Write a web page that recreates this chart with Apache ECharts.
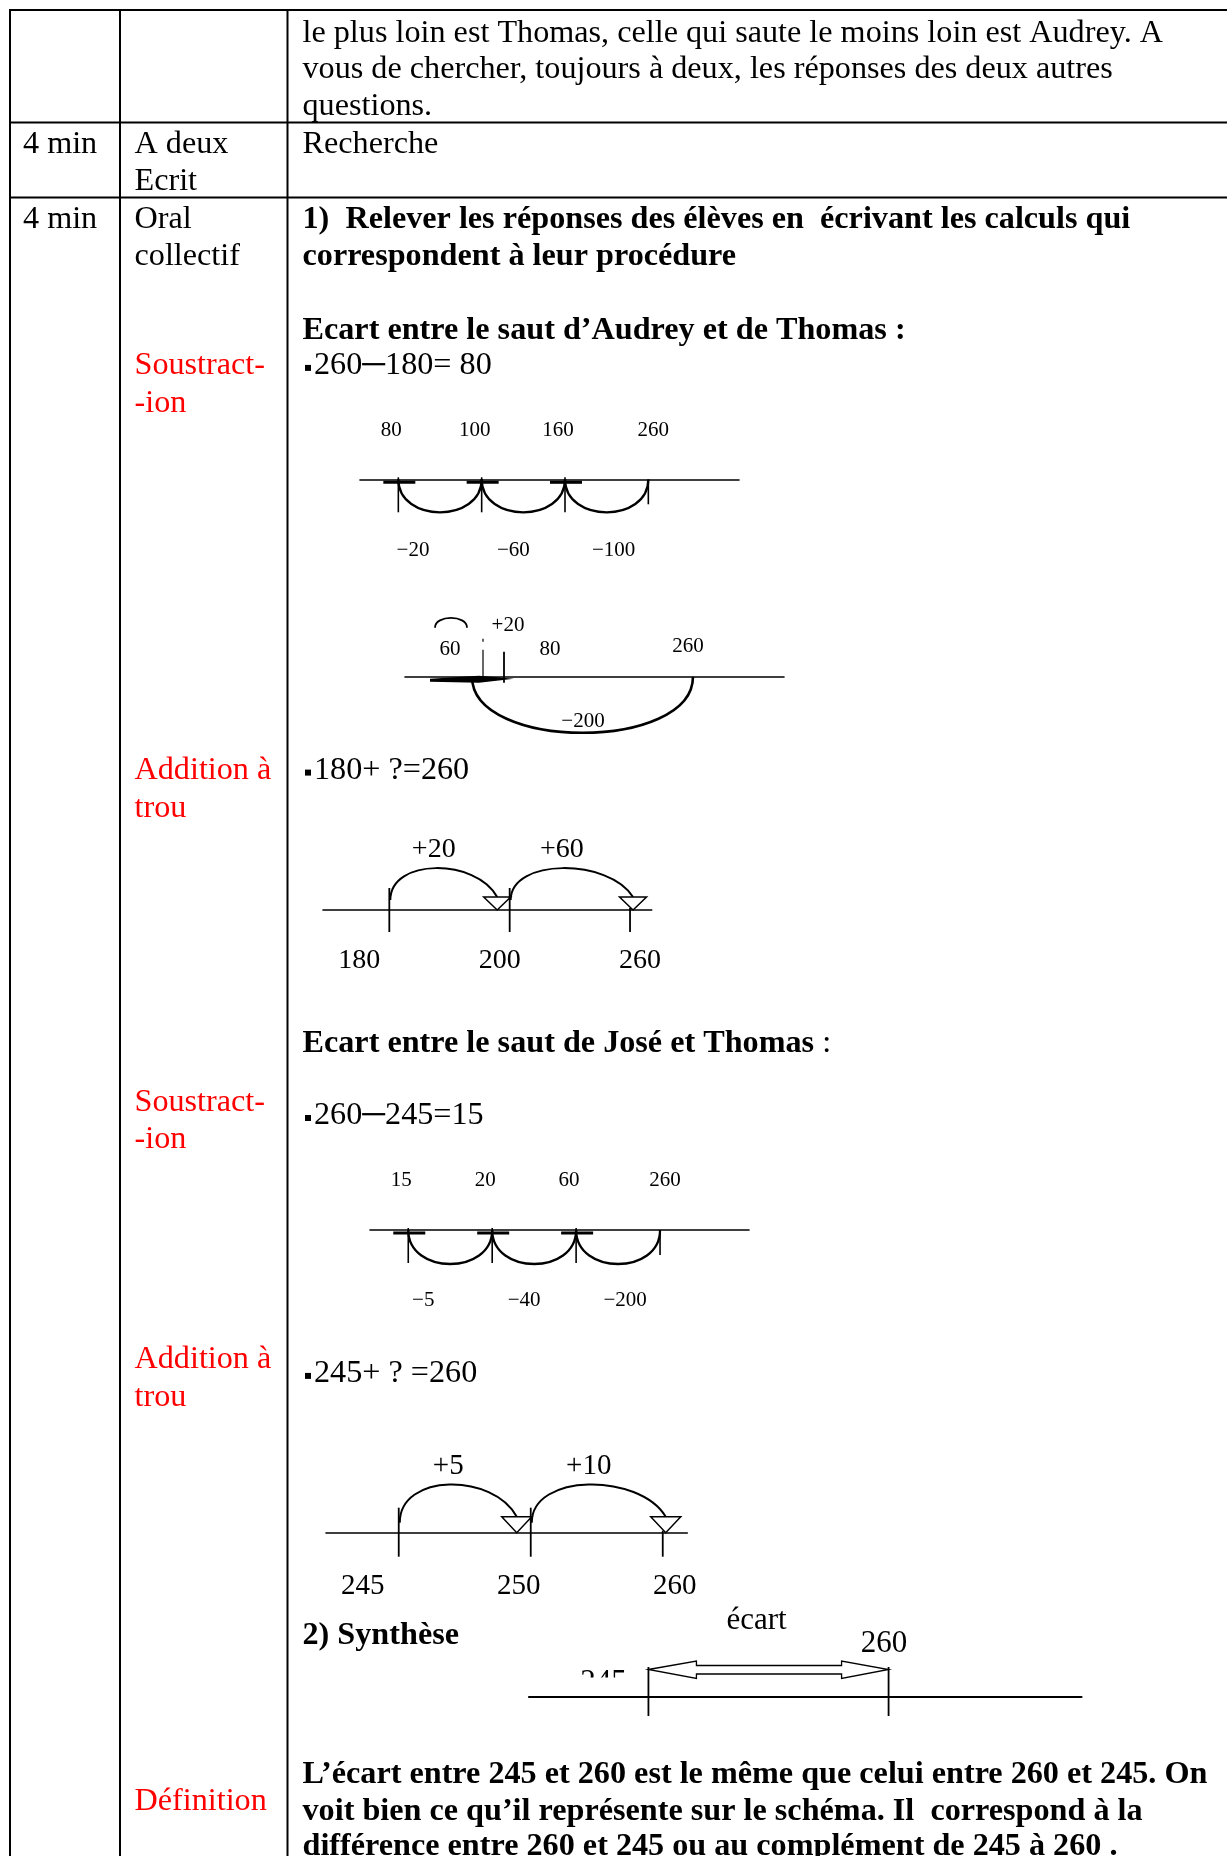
<!DOCTYPE html>
<html><head><meta charset="utf-8">
<script src="https://cdn.jsdelivr.net/npm/echarts@6/dist/echarts.min.js"></script>
<style>html,body{margin:0;padding:0;background:#fff}#c{width:1227px;height:1856px}</style>
</head><body><div id="c"></div>
<script>
// ================= DATA =================
// Diagram 1 : 260 − 180 by backward jumps (marks left → right, jumps between consecutive marks)
const d1Marks = ['80', '100', '160', '260'];
const d1Jumps = ['−20', '−60', '−100'];
// Diagram 2 : 260 − 200 = 60, then +20
const d2Marks = [60, 80, 260];
const d2Jumps = [[260, 60, '−200'], [60, 80, '+20']];
// Diagram 3 : 180 + ? = 260
const d3Marks = ['180', '200', '260'];
const d3Jumps = ['+20', '+60'];
// Diagram 4 : 260 − 245 by backward jumps
const d4Marks = ['15', '20', '60', '260'];
const d4Jumps = ['−5', '−40', '−200'];
// Diagram 5 : 245 + ? = 260
const d5Marks = ['245', '250', '260'];
const d5Jumps = ['+5', '+10'];
// Synthesis : gap between 245 and 260
const synthMarks = [245, 260];
const synthGap = [[245, 260, 'écart']];

// Texts
const col3Text = [
  'le plus loin est Thomas, celle qui saute le moins loin est Audrey. A',
  'vous de chercher, toujours à deux, les réponses des deux autres',
  'questions.',
  'Recherche'
];
const boldIntro = ['1)  Relever les réponses des élèves en  écrivant les calculs qui', 'correspondent à leur procédure'];
const heading1 = 'Ecart entre le saut d’Audrey et de Thomas :';
const heading2 = 'Ecart entre le saut de José et Thomas';
const calcs = ['260─180= 80', '180+ ?=260', '260─245=15', '245+ ? =260'];
const synthTitle = '2) Synthèse';
const conclusion = [
  'L’écart entre 245 et 260 est le même que celui entre 260 et 245. On',
  'voit bien ce qu’il représente sur le schéma. Il  correspond à la',
  'différence entre 260 et 245 ou au complément de 245 à 260 .'
];
const col1Text = ['4 min', '4 min'];
const col2Text = ['A deux', 'Ecrit', 'Oral', 'collectif'];
const redLabels = ['Soustract-', '-ion', 'Addition à', 'trou', 'Soustract-', '-ion', 'Addition à', 'trou', 'Définition'];

// ================= HELPERS =================
const FONT = '"Liberation Serif", "Times New Roman", serif';
const BLACK = '#000';
function txt(t, x, y, fs, extra) {
  return {type: 'text', style: Object.assign({text: t, x: x, y: y, font: fs + 'px ' + FONT, fill: BLACK,
    align: 'center', verticalAlign: 'middle', textAlign: 'center', textVerticalAlign: 'middle'}, extra || {})};
}
function line(x1, y1, x2, y2, w) {
  return {type: 'line', shape: {x1: x1, y1: y1, x2: x2, y2: y2}, style: {stroke: BLACK, lineWidth: w || 1.6}};
}

const grids = [], xAxes = [], yAxes = [], series = [];
function addGrid(L) {
  const gi = grids.length;
  grids.push({left: L.left, top: L.base - 50, width: L.width, height: 100});
  xAxes.push({gridIndex: gi, type: 'value', min: L.min, max: L.max,
    axisLine: {show: true, onZero: true, lineStyle: {color: BLACK, width: L.lw || 1.6}},
    axisTick: {show: false}, axisLabel: {show: false}, splitLine: {show: false}});
  yAxes.push({gridIndex: gi, type: 'value', min: -1, max: 1, show: false});
  return gi;
}
function addSeries(gi, data, renderItem) {
  series.push({type: 'custom', xAxisIndex: gi, yAxisIndex: gi, silent: true, clip: false,
    encode: {x: 0, y: 1}, data: data, renderItem: renderItem});
}

// --- subtraction type (arcs below) ---
function marksA(labels, o) {
  return function (params, api) {
    const i = params.dataIndex, p = api.coord([api.value(0), 0]);
    const last = i === labels.length - 1;
    const ch = [
      line(p[0], p[1] + (last ? 2 : -2), p[0], p[1] + (last ? 25 : 33), 1.6),
      txt(labels[i], p[0] + (last ? 5 : -7), p[1] - o.top, o.fs)
    ];
    if (!last) ch.push(line(p[0] - 15, p[1] + 3, p[0] + 17, p[1] + 3, 3));
    return {type: 'group', children: ch};
  };
}
function jumpsA(labels, o) {
  return function (params, api) {
    const j = params.dataIndex;
    const a = api.coord([api.value(0), 0]), b = api.coord([api.value(2), 0]);
    const d = o.depth * 4 / 3, mid = (a[0] + b[0]) / 2;
    return {type: 'group', children: [
      {type: 'bezierCurve', shape: {x1: b[0], y1: b[1], cpx1: b[0], cpy1: b[1] + d, cpx2: a[0], cpy2: a[1] + d, x2: a[0], y2: a[1]},
        style: {stroke: BLACK, lineWidth: 2.3, fill: 'none'}},
      txt(labels[j], mid - 10 + (j - 1) * 17, a[1] + o.bottom, o.fs)
    ]};
  };
}
// --- addition type (arrows above) ---
function marksB(labels, o) {
  return function (params, api) {
    const i = params.dataIndex, n = labels.length, p = api.coord([api.value(0), 0]);
    const last = i === n - 1;
    return {type: 'group', children: [
      line(p[0], p[1] - (last ? 2 : o.up), p[0], p[1] + o.down, 1.8),
      txt(labels[i], p[0] + o.dx + (i - (n - 1) / 2) * o.spread, p[1] + o.bottom, o.fs)
    ]};
  };
}
function jumpsB(labels, n, o) {
  return function (params, api) {
    const j = params.dataIndex;
    const a = api.coord([api.value(0), 0]), b = api.coord([api.value(2), 0]);
    const lastJ = j === n - 2;
    const ax = b[0] + (lastJ ? 3 : -o.triW / 2 + 1);
    const y0 = a[1], x0 = a[0] + 1, triTop = y0 - o.triH;
    return {type: 'group', children: [
      {type: 'bezierCurve', shape: {x1: x0, y1: y0 - 10, cpx1: x0, cpy1: y0 - o.H, cpx2: ax - (ax - x0) * 0.2, cpy2: y0 - o.H, x2: ax, y2: triTop},
        style: {stroke: BLACK, lineWidth: 2, fill: 'none'}},
      {type: 'polygon', shape: {points: [[ax - o.triW / 2, triTop], [ax + o.triW / 2, triTop], [ax, y0]]},
        style: {stroke: BLACK, lineWidth: 1.5, fill: '#fff'}},
      txt(labels[j], (x0 + ax) / 2 - 10, y0 - o.top, o.fs)
    ]};
  };
}

// ================= DIAGRAMS =================
// 1
let g = addGrid({base: 479.3, left: 360, width: 379, min: -0.46, max: 4.088});
addSeries(g, d1Jumps.map((l, j) => [j, 0, j + 1]), jumpsA(d1Jumps, {depth: 33, bottom: 71, fs: 21}));
addSeries(g, d1Marks.map((l, i) => [i, 0]), marksA(d1Marks, {top: 49, fs: 21}));

// 2
g = addGrid({base: 676.7, left: 405, width: 379, min: -14.3, max: 346.7});
const d2LabelOff = [[-33, -27], [46, -27], [-5, -30]];
addSeries(g, d2Marks.map(v => [v, 0]), function (params, api) {
  const i = params.dataIndex, p = api.coord([api.value(0), 0]);
  const ch = [txt(String(d2Marks[i]), p[0] + d2LabelOff[i][0], p[1] + d2LabelOff[i][1], 21)];
  if (i === 0) ch.push(line(p[0], p[1] - 27, p[0], p[1] + 2, 1.2), line(p[0], p[1] - 38, p[0], p[1] - 35, 1.2));
  if (i === 1) ch.push(line(p[0], p[1] - 25, p[0], p[1] + 6, 1.8));
  return {type: 'group', children: ch};
});
addSeries(g, d2Jumps.map(d => [d[0], 0, d[1]]), function (params, api) {
  const j = params.dataIndex, lab = d2Jumps[j][2];
  const a = api.coord([api.value(0), 0]), b = api.coord([api.value(2), 0]);
  if (api.value(2) < api.value(0)) {
    const bx = b[0] - 11, d = 56 * 4 / 3;
    return {type: 'group', children: [
      {type: 'bezierCurve', shape: {x1: a[0], y1: a[1], cpx1: a[0], cpy1: a[1] + d, cpx2: bx, cpy2: a[1] + d, x2: bx, y2: a[1]},
        style: {stroke: BLACK, lineWidth: 2.6, fill: 'none'}},
      txt(lab, (a[0] + b[0]) / 2 - 5, a[1] + 45, 21)
    ]};
  }
  const x0 = a[0] - 48, x1 = a[0] - 16, y = a[1] - 49;
  return {type: 'group', children: [
    {type: 'bezierCurve', shape: {x1: x0, y1: y, cpx1: x0, cpy1: y - 13, cpx2: x1, cpy2: y - 13, x2: x1, y2: y},
      style: {stroke: BLACK, lineWidth: 1.8, fill: 'none'}},
    {type: 'polygon', shape: {points: [[a[0] - 53, a[1] + 2], [a[0] - 4, a[1] - 1], [b[0] + 10, a[1] + 2], [a[0] - 4, a[1] + 6], [a[0] - 53, a[1] + 5]]},
      style: {fill: BLACK}},
    txt(lab, a[0] + 25, a[1] - 51, 21)
  ]};
});

// 3
g = addGrid({base: 910, left: 323, width: 328.7, min: -0.551, max: 2.18});
addSeries(g, d3Jumps.map((l, j) => [j, 0, j + 1]), jumpsB(d3Jumps, d3Marks.length, {H: 52, triW: 27, triH: 13, top: 60, fs: 28}));
addSeries(g, d3Marks.map((l, i) => [i, 0]), marksB(d3Marks, {up: 22, down: 22, bottom: 51, spread: 20, dx: -10, fs: 28}));

// 4
g = addGrid({base: 1230, left: 370, width: 379, min: -0.456, max: 4.06});
addSeries(g, d4Jumps.map((l, j) => [j, 0, j + 1]), jumpsA(d4Jumps, {depth: 34, bottom: 70, fs: 21}));
addSeries(g, d4Marks.map((l, i) => [i, 0]), marksA(d4Marks, {top: 50, fs: 21}));

// 5
g = addGrid({base: 1532.7, left: 326, width: 361.3, min: -0.551, max: 2.186});
addSeries(g, d5Jumps.map((l, j) => [j, 0, j + 1]), jumpsB(d5Jumps, d5Marks.length, {H: 60, triW: 30, triH: 16, top: 66, fs: 29}));
addSeries(g, d5Marks.map((l, i) => [i, 0]), marksB(d5Marks, {up: 25, down: 24, bottom: 54, spread: 24, dx: -12, fs: 29}));

// Synthesis
g = addGrid({base: 1697, left: 529, width: 552.5, min: 237.54, max: 272.05, lw: 2.2});
addSeries(g, synthMarks.map(v => [v, 0]), function (params, api) {
  const i = params.dataIndex, p = api.coord([api.value(0), 0]);
  const ch = [line(p[0], p[1] - 30, p[0], p[1] + 19, 1.8)];
  if (i === 0) {
    ch.push(txt(String(synthMarks[i]), p[0] - 45, p[1] - 14, 31));
    ch.push({type: 'rect', shape: {x: p[0] - 80, y: p[1] - 19.5, width: 76, height: 17}, style: {fill: '#fff'}});
  } else {
    ch.push(txt(String(synthMarks[i]), p[0] - 4.5, p[1] - 53, 31));
  }
  return {type: 'group', children: ch};
});
addSeries(g, synthGap.map(d => [d[0], 0, d[1]]), function (params, api) {
  const a = api.coord([api.value(0), 0]), b = api.coord([api.value(2), 0]);
  const c = a[1] - 27.5, x0 = a[0], x1 = b[0];
  const pts = [[x0, c], [x0 + 48, c - 8.5], [x0 + 48, c - 4], [x1 - 47, c - 4], [x1 - 47, c - 8.5], [x1, c],
               [x1 - 47, c + 9], [x1 - 47, c + 4.5], [x0 + 48, c + 4.5], [x0 + 48, c + 9]];
  return {type: 'group', children: [
    {type: 'polygon', shape: {points: pts}, style: {stroke: BLACK, lineWidth: 1.3, fill: '#fff'}},
    txt(synthGap[0][2], (x0 + x1) / 2 - 12, a[1] - 76, 31)
  ]};
});

// ================= PAGE (table + text) =================
const mctx = document.createElement('canvas').getContext('2d');
function measure(t, font) { mctx.font = font; return mctx.measureText(t).width; }
const FS = 32.2;
const fN = FS + 'px ' + FONT, fB = 'bold ' + FS + 'px ' + FONT;
const DY = 2.6;
const els = [];
function gt(t, x, y, bold, color) {
  els.push({type: 'text', silent: true, z: 10, style: {text: t, x: x, y: y + DY, font: bold ? fB : fN, fill: color || BLACK,
    align: 'left', verticalAlign: 'middle', textAlign: 'left', textVerticalAlign: 'middle'}});
}
function gl(x1, y1, x2, y2) {
  els.push({type: 'line', silent: true, z: 10, shape: {x1: x1, y1: y1, x2: x2, y2: y2}, style: {stroke: BLACK, lineWidth: 2}});
}
function bullet(y) {
  els.push({type: 'rect', silent: true, z: 10, shape: {x: 305, y: y + DY - 1, width: 6, height: 6}, style: {fill: BLACK}});
}
// table rules
gl(9, 10, 1227, 10); gl(9, 122.5, 1227, 122.5); gl(9, 197.5, 1227, 197.5);
gl(10, 9, 10, 1856); gl(120, 9, 120, 1856); gl(287.5, 9, 287.5, 1856);

const X1 = 23, X2 = 134.5, X3 = 302.5;
gt(col3Text[0], X3, 30.8); gt(col3Text[1], X3, 67.4); gt(col3Text[2], X3, 104.1); gt(col3Text[3], X3, 142);
gt(col1Text[0], X1, 142); gt(col1Text[1], X1, 217);
gt(col2Text[0], X2, 142); gt(col2Text[1], X2, 178.7); gt(col2Text[2], X2, 217); gt(col2Text[3], X2, 253.5);
gt(boldIntro[0], X3, 217.5, true); gt(boldIntro[1], X3, 254.2, true);
gt(heading1, X3, 327.8, true);
const calcY = [363.3, 768, 1113.4, 1371.3];
calcs.forEach((c, k) => { bullet(calcY[k]); gt(c, 314, calcY[k]); });
gt(heading2, X3, 1041.2, true);
gt(' :', X3 + measure(heading2, fB), 1041.2);
gt(synthTitle, X3, 1632.8, true);
const concY = [1772, 1808.8, 1844.2];
conclusion.forEach((c, k) => gt(c, X3, concY[k], true));
const redY = [363.3, 401, 768, 806, 1100.4, 1137, 1357, 1395, 1798.5];
redLabels.forEach((r, k) => gt(r, X2, redY[k], false, '#ff0000'));

const chart = echarts.init(document.getElementById('c'), null, {renderer: 'canvas'});
chart.setOption({
  animation: false,
  backgroundColor: '#fff',
  grid: grids, xAxis: xAxes, yAxis: yAxes, series: series,
  graphic: {elements: els}
});
</script></body></html>
